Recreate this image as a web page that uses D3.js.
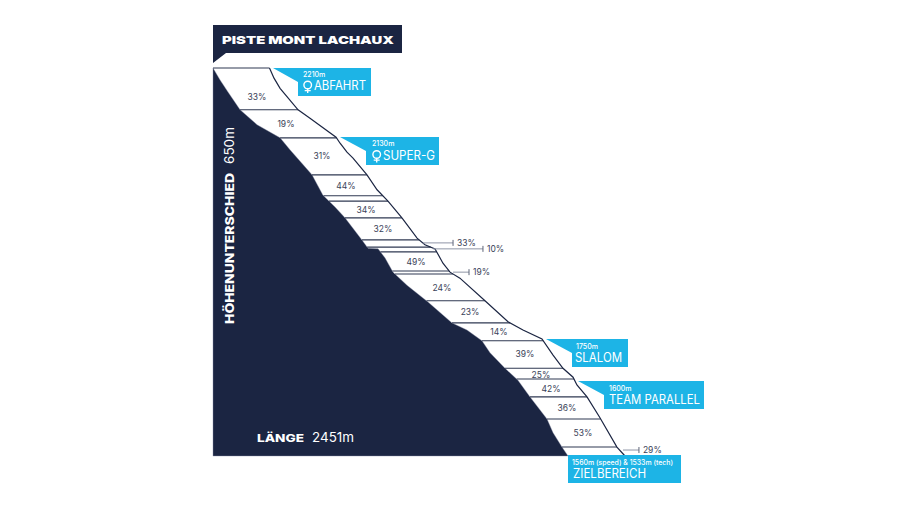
<!DOCTYPE html>
<html>
<head>
<meta charset="utf-8">
<script src="https://cdnjs.cloudflare.com/ajax/libs/d3/7.8.5/d3.min.js"></script>
<style>
  html, body { margin: 0; background: #fff; }
  svg { display: block; }
  text { font-family: Inter, "Noto Sans", sans-serif; }
</style>
</head>
<body>
<div id="chart"></div>
<script>
// DATA: distance from start (m) and altitude (m)
const groundDist = [0, 42, 89, 161, 262, 399, 458, 589, 654, 726, 785, 886, 922, 982, 1023, 1071, 1154, 1279, 1422, 1511, 1600, 1648, 1737, 1814, 1886, 1987, 2023, 2076, 2112];
const groundAlt = [2210, 2190, 2170, 2140, 2115, 2093, 2073, 2031, 1997, 1977, 1959, 1922, 1908, 1907, 1892, 1868, 1846, 1818, 1783, 1771, 1753, 1733, 1707, 1687, 1659, 1622, 1599, 1575, 1560];
const pisteDist = [336, 363, 399, 506, 577, 732, 756, 797, 833, 916, 976, 1041, 1124, 1214, 1261, 1321, 1368, 1410, 1469, 1618, 1755, 1844, 1957, 2023, 2082, 2142, 2165, 2225, 2302, 2403, 2451];
const pisteAlt = [2210, 2193, 2176, 2140, 2126, 2094, 2084, 2069, 2059, 2031, 2006, 1987, 1959, 1925, 1914, 1907, 1883, 1868, 1858, 1820, 1785, 1771, 1756, 1729, 1707, 1692, 1679, 1659, 1624, 1575, 1560];

// altitude of each line across the piste
const sectionAlt = [2210, 2140, 2093, 2031, 1996, 1987, 1959, 1922, 1910, 1902, 1870, 1865, 1820, 1783, 1753, 1707, 1689, 1659, 1622, 1575];

// gradients written inside the sections
const slopeLabels = ['33%', '19%', '31%', '44%', '34%', '32%', '49%', '24%', '23%', '14%', '39%', '25%', '42%', '36%', '53%'];
const slopeDist = [262, 434, 648, 791, 910, 1011, 1208, 1362, 1529, 1701, 1856, 1951, 2011, 2106, 2201];
const slopeAlt = [2161, 2116, 2063, 2012, 1972, 1940, 1885, 1841, 1801, 1768, 1731, 1696, 1672, 1640, 1599];

// gradients too short to hold a label, pulled out on a leader
const leaderLabels = ['33%', '10%', '19%', '29%'];
const leaderFrom = [1249, 1309, 1428, 2439];
const leaderTo = [1428, 1606, 1523, 2534];
const leaderAlt = [1917, 1907, 1868, 1570];

// start houses
const startNames = ['ABFAHRT', 'SUPER-G', 'SLALOM', 'TEAM PARALLEL', 'ZIELBEREICH'];
const startHeights = ['2210m', '2130m', '1750m', '1600m', '1560m (speed) & 1533m (tech)'];
const startFemale = [true, true, false, false, false];

const totalLength = 2451;
const totalDrop = 650;

// SETTINGS
const width = 900, height = 506;
const navy = '#1b2542', sky = '#1db4e6', grey = '#8f95a6';

// pixel boxes of the blue callouts: tip x/y, box x/y/w/h, text positions
const boxes = [
  { tip: [273, 68], x: 298, y: 68, w: 73, h: 28, notch: 82, subX: 303, subY: 77, nameX: 314, nameY: 90, nameW: 52 },
  { tip: [340, 137], x: 366, y: 137, w: 73, h: 28, notch: 151, subX: 372, subY: 146, nameX: 383, nameY: 159.5, nameW: 52 },
  { tip: [546, 339], x: 572, y: 339, w: 56, h: 28, notch: 353, subX: 576, subY: 349, nameX: 575, nameY: 361.5, nameW: 47 },
  { tip: [578, 381], x: 604, y: 381, w: 100, h: 28, notch: 395, subX: 609, subY: 391, nameX: 609, nameY: 403.5, nameW: 91 },
  { tip: null, x: 568, y: 455, w: 113, h: 28, subX: 572, subY: 465, subW: 101, nameX: 573, nameY: 477.5, nameW: 73 }
];

const x = d3.scaleLinear().domain([0, totalLength]).range([213, 625]);
const y = d3.scaleLinear().domain([2210, 1560]).range([68, 456]);

const ground = groundDist.map((d, i) => ({ dist: d, alt: groundAlt[i] }));
const piste = pisteDist.map((d, i) => ({ dist: d, alt: pisteAlt[i] }));

// where a given altitude cuts a profile
const distAt = (profile, alt) => {
  const i = profile.findIndex(p => p.alt <= alt);
  if (i <= 0) return profile[0].dist;
  const a = profile[i - 1], b = profile[i];
  return a.dist + (a.alt - alt) / (a.alt - b.alt) * (b.dist - a.dist);
};

const svg = d3.select('#chart')
  .append('svg')
  .attr('width', width)
  .attr('height', height);

// dark mountain
const area = d3.area()
  .x(d => x(d.dist))
  .y0(y(1560))
  .y1(d => y(d.alt));
svg.append('path')
  .datum(ground)
  .attr('d', area)
  .attr('fill', navy)
  .attr('stroke', '#8a90a6')
  .attr('stroke-width', 0.4);

// lines across the piste
svg.append('g')
  .selectAll('line')
  .data(sectionAlt)
  .join('line')
  .attr('x1', d => x(distAt(ground, d)))
  .attr('x2', d => x(distAt(piste, d)))
  .attr('y1', d => y(d))
  .attr('y2', d => y(d))
  .attr('stroke', '#2f3852')
  .attr('stroke-width', 1.1);

// outer edge of the piste
const line = d3.line()
  .x(d => x(d.dist))
  .y(d => y(d.alt));
svg.append('path')
  .datum(piste)
  .attr('d', line)
  .attr('fill', 'none')
  .attr('stroke', navy)
  .attr('stroke-width', 1.2);

// gradients
svg.append('g')
  .selectAll('text')
  .data(slopeLabels)
  .join('text')
  .attr('x', (d, i) => x(slopeDist[i]))
  .attr('y', (d, i) => y(slopeAlt[i]))
  .attr('dy', '0.35em')
  .attr('text-anchor', 'middle')
  .attr('font-size', 8.5)
  .attr('fill', '#3a4258')
  .text(d => d);

// leaders
const leaders = svg.append('g')
  .selectAll('g')
  .data(leaderLabels)
  .join('g');
leaders.append('line')
  .attr('x1', (d, i) => x(leaderFrom[i]))
  .attr('x2', (d, i) => x(leaderTo[i]))
  .attr('y1', (d, i) => y(leaderAlt[i]))
  .attr('y2', (d, i) => y(leaderAlt[i]))
  .attr('stroke', grey)
  .attr('stroke-width', 1);
leaders.append('line')
  .attr('x1', (d, i) => x(leaderTo[i]))
  .attr('x2', (d, i) => x(leaderTo[i]))
  .attr('y1', (d, i) => y(leaderAlt[i]) - 3)
  .attr('y2', (d, i) => y(leaderAlt[i]) + 3)
  .attr('stroke', '#5d6478')
  .attr('stroke-width', 1);
leaders.append('text')
  .attr('x', (d, i) => x(leaderTo[i]) + 4)
  .attr('y', (d, i) => y(leaderAlt[i]))
  .attr('dy', '0.35em')
  .attr('font-size', 8.5)
  .attr('fill', '#3a4258')
  .text(d => d);

// title flag
svg.append('path')
  .attr('d', 'M213,25H402V53H226L213,63Z')
  .attr('fill', navy);
svg.append('text')
  .attr('x', 222)
  .attr('y', 43.5)
  .attr('font-size', 11)
  .attr('font-weight', 900)
  .attr('fill', '#fff')
  .attr('textLength', 172)
  .attr('lengthAdjust', 'spacingAndGlyphs')
  .text('PISTE MONT LACHAUX');

// axis captions
const heightCap = svg.append('g');
heightCap.append('text')
  .attr('transform', 'translate(234,324) rotate(-90)')
  .attr('font-size', 12)
  .attr('font-weight', 800)
  .attr('fill', '#fff')
  .attr('textLength', 151)
  .attr('lengthAdjust', 'spacingAndGlyphs')
  .text('HÖHENUNTERSCHIED');
heightCap.append('text')
  .attr('transform', 'translate(234,164) rotate(-90)')
  .attr('font-size', 13)
  .attr('fill', '#fff')
  .attr('textLength', 37)
  .attr('lengthAdjust', 'spacingAndGlyphs')
  .text(totalDrop + 'm');

svg.append('text')
  .attr('x', 257)
  .attr('y', 442)
  .attr('font-size', 10.5)
  .attr('font-weight', 800)
  .attr('fill', '#fff')
  .attr('textLength', 47)
  .attr('lengthAdjust', 'spacingAndGlyphs')
  .text('LÄNGE');
svg.append('text')
  .attr('x', 312)
  .attr('y', 442)
  .attr('font-size', 13)
  .attr('fill', '#fff')
  .attr('textLength', 42)
  .attr('lengthAdjust', 'spacingAndGlyphs')
  .text(totalLength + 'm');

// blue callouts
const callouts = svg.append('g')
  .selectAll('g')
  .data(startNames)
  .join('g');
callouts.append('path')
  .attr('d', (d, i) => {
    const b = boxes[i];
    const pointer = b.tip ? `V${b.notch}L${b.tip[0]},${b.tip[1]}` : '';
    return `M${b.x + b.w},${b.y}V${b.y + b.h}H${b.x}${pointer}V${b.tip ? b.tip[1] : b.y}Z`;
  })
  .attr('fill', sky);
callouts.append('text')
  .attr('x', (d, i) => boxes[i].subX)
  .attr('y', (d, i) => boxes[i].subY)
  .attr('font-size', 7)
  .attr('font-weight', 500)
  .attr('fill', '#fff')
  .attr('textLength', (d, i) => boxes[i].subW || null)
  .attr('lengthAdjust', 'spacingAndGlyphs')
  .text((d, i) => startHeights[i]);
callouts.append('text')
  .attr('x', (d, i) => boxes[i].nameX)
  .attr('y', (d, i) => boxes[i].nameY)
  .attr('font-size', 12.5)
  .attr('fill', '#fff')
  .attr('textLength', (d, i) => boxes[i].nameW)
  .attr('lengthAdjust', 'spacingAndGlyphs')
  .text(d => d);

// women's symbol in front of the speed starts
const female = callouts.filter((d, i) => startFemale[i])
  .append('g')
  .attr('transform', d => {
    const b = boxes[startNames.indexOf(d)];
    return `translate(${b.nameX - 6.3},${b.nameY - 5})`;
  })
  .attr('fill', 'none')
  .attr('stroke', '#fff')
  .attr('stroke-width', 1.4);
female.append('circle').attr('r', 3.8);
female.append('path').attr('d', 'M0,3.8V8M-3,5.6H3');
</script>
</body>
</html>
